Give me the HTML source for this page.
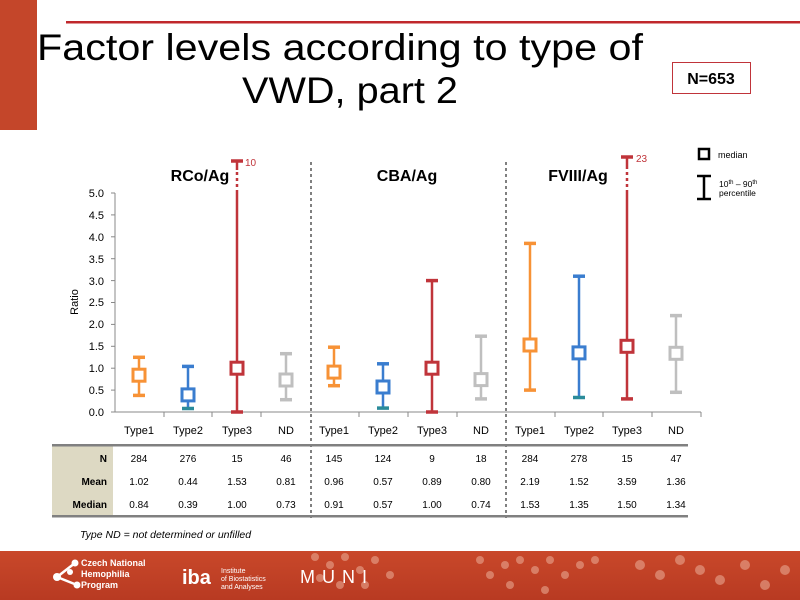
<!DOCTYPE html>
<html><head><meta charset="utf-8"><style>
html,body{margin:0;padding:0;background:#fff}
svg{display:block;font-family:"Liberation Sans",sans-serif}
</style></head><body>
<svg width="800" height="600" viewBox="0 0 800 600" xmlns="http://www.w3.org/2000/svg">
<defs>
<linearGradient id="ft" x1="0" y1="0" x2="0" y2="1"><stop offset="0" stop-color="#c9482a"/><stop offset="1" stop-color="#b83a22"/></linearGradient>
</defs>
<rect x="0" y="0" width="37" height="130" fill="#c4462a"/>
<rect x="66" y="21" width="734" height="2.5" fill="#c0282c"/>
<text x="340" y="60" font-size="37" text-anchor="middle" textLength="606" lengthAdjust="spacingAndGlyphs" fill="#000">Factor levels according to type of</text>
<text x="350" y="103" font-size="37" text-anchor="middle" textLength="216" lengthAdjust="spacingAndGlyphs" fill="#000">VWD, part 2</text>
<rect x="672.5" y="62.5" width="78" height="31" fill="#fff" stroke="#c0343a" stroke-width="1"/>
<text x="711" y="84" font-size="16" font-weight="bold" text-anchor="middle">N=653</text>

<!-- legend -->
<rect x="699" y="149" width="10" height="10" fill="#fff" stroke="#000" stroke-width="2.5"/>
<text x="718" y="158" font-size="9">median</text>
<g stroke="#000" stroke-width="2.5"><line x1="704" y1="176" x2="704" y2="199"/><line x1="697" y1="176" x2="711" y2="176"/><line x1="697" y1="199" x2="711" y2="199"/></g>
<text x="719" y="187" font-size="8.5">10<tspan font-size="6" dy="-3">th</tspan><tspan dy="3"> – 90</tspan><tspan font-size="6" dy="-3">th</tspan></text>
<text x="719" y="196" font-size="8.5">percentile</text>

<!-- group titles -->
<text x="200" y="181" font-size="16" font-weight="bold" text-anchor="middle">RCo/Ag</text>
<text x="407" y="181" font-size="16" font-weight="bold" text-anchor="middle">CBA/Ag</text>
<text x="578" y="181" font-size="16" font-weight="bold" text-anchor="middle">FVIII/Ag</text>

<!-- y axis -->
<g stroke="#888" stroke-width="1">
<line x1="115" y1="193" x2="115" y2="412"/>
<line x1="111" y1="193" x2="115" y2="193"/><line x1="111" y1="214.9" x2="115" y2="214.9"/><line x1="111" y1="236.8" x2="115" y2="236.8"/><line x1="111" y1="258.7" x2="115" y2="258.7"/><line x1="111" y1="280.6" x2="115" y2="280.6"/><line x1="111" y1="302.5" x2="115" y2="302.5"/><line x1="111" y1="324.4" x2="115" y2="324.4"/><line x1="111" y1="346.3" x2="115" y2="346.3"/><line x1="111" y1="368.2" x2="115" y2="368.2"/><line x1="111" y1="390.1" x2="115" y2="390.1"/>
<line x1="111" y1="412" x2="701" y2="412"/>
<line x1="164" y1="412" x2="164" y2="417"/><line x1="212" y1="412" x2="212" y2="417"/><line x1="261" y1="412" x2="261" y2="417"/><line x1="359" y1="412" x2="359" y2="417"/><line x1="408" y1="412" x2="408" y2="417"/><line x1="457" y1="412" x2="457" y2="417"/><line x1="555" y1="412" x2="555" y2="417"/><line x1="603" y1="412" x2="603" y2="417"/><line x1="652" y1="412" x2="652" y2="417"/><line x1="701" y1="412" x2="701" y2="417"/>
</g>
<g font-size="11" text-anchor="end" fill="#000">
<text x="104" y="197">5.0</text><text x="104" y="219">4.5</text><text x="104" y="241">4.0</text><text x="104" y="263">3.5</text><text x="104" y="285">3.0</text><text x="104" y="306">2.5</text><text x="104" y="328">2.0</text><text x="104" y="350">1.5</text><text x="104" y="372">1.0</text><text x="104" y="394">0.5</text><text x="104" y="416">0.0</text>
</g>
<text transform="translate(78,302) rotate(-90)" font-size="11" text-anchor="middle">Ratio</text>
<g font-size="11" text-anchor="middle">
<text x="139" y="434">Type1</text><text x="188" y="434">Type2</text><text x="237" y="434">Type3</text><text x="286" y="434">ND</text>
<text x="334" y="434">Type1</text><text x="383" y="434">Type2</text><text x="432" y="434">Type3</text><text x="481" y="434">ND</text>
<text x="530" y="434">Type1</text><text x="579" y="434">Type2</text><text x="627" y="434">Type3</text><text x="676" y="434">ND</text>
</g>

<!-- dividers -->
<g stroke="#000" stroke-width="1" stroke-dasharray="3,3">
<line x1="311" y1="162" x2="311" y2="518"/>
<line x1="506" y1="162" x2="506" y2="518"/>
</g>

<!-- bars -->
<g stroke-width="2.5" fill="#fff">
<!-- RCo -->
<g stroke="#f79236"><line x1="139" y1="395.4" x2="139" y2="357.3"/><line x1="133" y1="395.4" x2="145" y2="395.4" stroke-width="3.5"/><line x1="133" y1="357.3" x2="145" y2="357.3" stroke-width="3.5"/><rect x="133" y="369.2" width="12" height="12" stroke-width="3"/></g>
<g stroke="#3a7dcf"><line x1="188" y1="408.5" x2="188" y2="366.4"/><line x1="182" y1="366.4" x2="194" y2="366.4" stroke-width="3.5"/><line x1="182" y1="408.5" x2="194" y2="408.5" stroke="#2a8b9a" stroke-width="3.5"/><rect x="182" y="388.9" width="12" height="12" stroke-width="3"/></g>
<g stroke="#c0343a"><line x1="237" y1="412" x2="237" y2="193"/><line x1="237" y1="193" x2="237" y2="170" stroke-dasharray="3,3"/><line x1="237" y1="170" x2="237" y2="161"/><line x1="231" y1="412" x2="243" y2="412" stroke-width="3.5"/><line x1="231" y1="161" x2="243" y2="161" stroke-width="3.5"/><rect x="231" y="362.2" width="12" height="12" stroke-width="3"/></g>
<g stroke="#bfbfbf"><line x1="286" y1="399.7" x2="286" y2="353.7"/><line x1="280" y1="399.7" x2="292" y2="399.7" stroke-width="3.5"/><line x1="280" y1="353.7" x2="292" y2="353.7" stroke-width="3.5"/><rect x="280" y="374" width="12" height="12" stroke-width="3"/></g>
<!-- CBA -->
<g stroke="#f79236"><line x1="334" y1="385.7" x2="334" y2="347.2"/><line x1="328" y1="385.7" x2="340" y2="385.7" stroke-width="3.5"/><line x1="328" y1="347.2" x2="340" y2="347.2" stroke-width="3.5"/><rect x="328" y="366.1" width="12" height="12" stroke-width="3"/></g>
<g stroke="#3a7dcf"><line x1="383" y1="408.1" x2="383" y2="363.8"/><line x1="377" y1="363.8" x2="389" y2="363.8" stroke-width="3.5"/><line x1="377" y1="408.1" x2="389" y2="408.1" stroke="#2a8b9a" stroke-width="3.5"/><rect x="377" y="381" width="12" height="12" stroke-width="3"/></g>
<g stroke="#c0343a"><line x1="432" y1="412" x2="432" y2="280.6"/><line x1="426" y1="412" x2="438" y2="412" stroke-width="3.5"/><line x1="426" y1="280.6" x2="438" y2="280.6" stroke-width="3.5"/><rect x="426" y="362.2" width="12" height="12" stroke-width="3"/></g>
<g stroke="#bfbfbf"><line x1="481" y1="398.9" x2="481" y2="336.2"/><line x1="475" y1="398.9" x2="487" y2="398.9" stroke-width="3.5"/><line x1="475" y1="336.2" x2="487" y2="336.2" stroke-width="3.5"/><rect x="475" y="373.6" width="12" height="12" stroke-width="3"/></g>
<!-- FVIII -->
<g stroke="#f79236"><line x1="530" y1="390.1" x2="530" y2="243.4"/><line x1="524" y1="390.1" x2="536" y2="390.1" stroke-width="3.5"/><line x1="524" y1="243.4" x2="536" y2="243.4" stroke-width="3.5"/><rect x="524" y="339" width="12" height="12" stroke-width="3"/></g>
<g stroke="#3a7dcf"><line x1="579" y1="397.5" x2="579" y2="276.2"/><line x1="573" y1="276.2" x2="585" y2="276.2" stroke-width="3.5"/><line x1="573" y1="397.5" x2="585" y2="397.5" stroke="#2a8b9a" stroke-width="3.5"/><rect x="573" y="346.9" width="12" height="12" stroke-width="3"/></g>
<g stroke="#c0343a"><line x1="627" y1="398.9" x2="627" y2="193"/><line x1="627" y1="193" x2="627" y2="166" stroke-dasharray="3,3"/><line x1="627" y1="166" x2="627" y2="157"/><line x1="621" y1="398.9" x2="633" y2="398.9" stroke-width="3.5"/><line x1="621" y1="157" x2="633" y2="157" stroke-width="3.5"/><rect x="621" y="340.3" width="12" height="12" stroke-width="3"/></g>
<g stroke="#bfbfbf"><line x1="676" y1="392.3" x2="676" y2="315.6"/><line x1="670" y1="392.3" x2="682" y2="392.3" stroke-width="3.5"/><line x1="670" y1="315.6" x2="682" y2="315.6" stroke-width="3.5"/><rect x="670" y="347.3" width="12" height="12" stroke-width="3"/></g>
</g>
<text x="245" y="166" font-size="10" fill="#c0343a">10</text>
<text x="636" y="162" font-size="10" fill="#c0343a">23</text>

<!-- table -->
<rect x="52" y="446" width="61" height="70" fill="#ddd9c3"/>
<rect x="52" y="444" width="636" height="2.5" fill="#808080"/>
<rect x="52" y="515" width="636" height="2.5" fill="#808080"/>
<g font-size="10" font-weight="bold" text-anchor="end">
<text x="107" y="462">N</text><text x="107" y="485">Mean</text><text x="107" y="508">Median</text>
</g>
<g font-size="10" text-anchor="middle">
<text x="139" y="462">284</text><text x="188" y="462">276</text><text x="237" y="462">15</text><text x="286" y="462">46</text><text x="334" y="462">145</text><text x="383" y="462">124</text><text x="432" y="462">9</text><text x="481" y="462">18</text><text x="530" y="462">284</text><text x="579" y="462">278</text><text x="627" y="462">15</text><text x="676" y="462">47</text>
<text x="139" y="485">1.02</text><text x="188" y="485">0.44</text><text x="237" y="485">1.53</text><text x="286" y="485">0.81</text><text x="334" y="485">0.96</text><text x="383" y="485">0.57</text><text x="432" y="485">0.89</text><text x="481" y="485">0.80</text><text x="530" y="485">2.19</text><text x="579" y="485">1.52</text><text x="627" y="485">3.59</text><text x="676" y="485">1.36</text>
<text x="139" y="508">0.84</text><text x="188" y="508">0.39</text><text x="237" y="508">1.00</text><text x="286" y="508">0.73</text><text x="334" y="508">0.91</text><text x="383" y="508">0.57</text><text x="432" y="508">1.00</text><text x="481" y="508">0.74</text><text x="530" y="508">1.53</text><text x="579" y="508">1.35</text><text x="627" y="508">1.50</text><text x="676" y="508">1.34</text>
</g>
<text x="80" y="538" font-size="10.5" font-style="italic">Type ND = not determined or unfilled</text>

<!-- footer -->
<rect x="0" y="551" width="800" height="49" fill="url(#ft)"/>
<g fill="#e8a690" opacity="0.6">
<circle cx="315" cy="557" r="4"/><circle cx="330" cy="565" r="4"/><circle cx="345" cy="557" r="4"/><circle cx="360" cy="570" r="4"/><circle cx="375" cy="560" r="4"/><circle cx="390" cy="575" r="4"/><circle cx="320" cy="578" r="4"/><circle cx="340" cy="585" r="4"/><circle cx="365" cy="585" r="4"/>
<circle cx="480" cy="560" r="4"/><circle cx="490" cy="575" r="4"/><circle cx="505" cy="565" r="4"/><circle cx="520" cy="560" r="4"/><circle cx="535" cy="570" r="4"/><circle cx="550" cy="560" r="4"/><circle cx="565" cy="575" r="4"/><circle cx="580" cy="565" r="4"/><circle cx="595" cy="560" r="4"/><circle cx="510" cy="585" r="4"/><circle cx="545" cy="590" r="4"/>
<circle cx="640" cy="565" r="5"/><circle cx="660" cy="575" r="5"/><circle cx="680" cy="560" r="5"/><circle cx="700" cy="570" r="5"/><circle cx="720" cy="580" r="5"/><circle cx="745" cy="565" r="5"/><circle cx="765" cy="585" r="5"/><circle cx="785" cy="570" r="5"/>
</g>
<g fill="#fff">
<circle cx="57" cy="577" r="4"/><circle cx="70" cy="572" r="3"/><circle cx="75" cy="563" r="3.5"/><circle cx="77" cy="585" r="3.5"/>
<line x1="57" y1="577" x2="75" y2="563" stroke="#fff" stroke-width="2.5"/><line x1="57" y1="577" x2="77" y2="585" stroke="#fff" stroke-width="2.5"/>
<text x="81" y="566" font-size="9" font-weight="bold">Czech National</text>
<text x="81" y="577" font-size="9" font-weight="bold">Hemophilia</text>
<text x="81" y="588" font-size="9" font-weight="bold">Program</text>
<text x="182" y="584" font-size="20" font-weight="bold">iba</text>
<text x="221" y="573" font-size="7">Institute</text>
<text x="221" y="581" font-size="7">of Biostatistics</text>
<text x="221" y="589" font-size="7">and Analyses</text>
<text x="300" y="583" font-size="18" letter-spacing="7">MUNI</text>
</g>
</svg>
</body></html>
